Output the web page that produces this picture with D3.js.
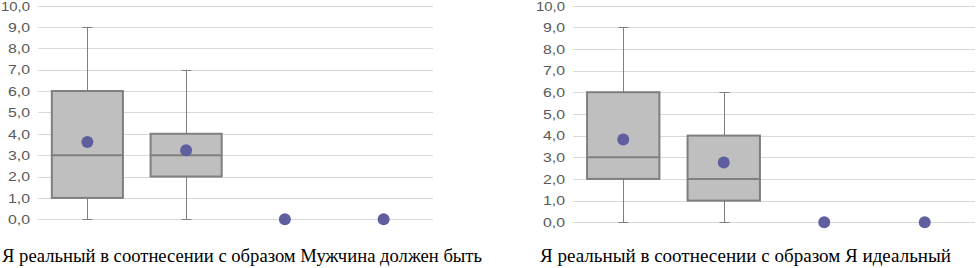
<!DOCTYPE html>
<html>
<head>
<meta charset="utf-8">
<script src="https://cdn.jsdelivr.net/npm/d3@7"></script>
<style>
  html, body { margin: 0; padding: 0; background: #fff; }
  svg { display: block; }
  .tick text { font-family: "Liberation Sans", "DejaVu Sans", sans-serif; fill: #595959; }
  .caption { font-family: "Liberation Serif", "DejaVu Serif", serif; fill: #000; }
</style>
</head>
<body>
<div id="chart"></div>
<script>
(function () {
  // categories (4 per panel, unnamed in the picture)
  const categories = ['A', 'B', 'C', 'D'];
  const yTicks = d3.range(0, 11, 1);

  // panel 1: "Мужчина должен быть"
  const leftMin    = [0, 0, null, null];
  const leftQ1     = [1, 2, null, null];
  const leftMedian = [3, 3, null, null];
  const leftQ3     = [6, 4, null, null];
  const leftMax    = [9, 7, null, null];
  const leftMean   = [3.62, 3.23, 0, 0];

  // panel 2: "Я идеальный"
  const rightMin    = [0, 0, null, null];
  const rightQ1     = [2, 1, null, null];
  const rightMedian = [3, 2, null, null];
  const rightQ3     = [6, 4, null, null];
  const rightMax    = [9, 6, null, null];
  const rightMean   = [3.82, 2.76, 0, 0];

  const captions = [
    'Я реальный в соотнесении с образом Мужчина должен быть',
    'Я реальный в соотнесении с образом Я идеальный'
  ];

  const W = 976, H = 268;
  const svg = d3.select('#chart').append('svg')
    .attr('width', W).attr('height', H)
    .attr('viewBox', `0 0 ${W} ${H}`);

  function pack(mn, q1, md, q3, mx, mean) {
    return categories.map((c, i) => ({
      cat: c, min: mn[i], q1: q1[i], med: md[i], q3: q3[i], max: mx[i], mean: mean[i]
    }));
  }

  const panels = [
    { data: pack(leftMin, leftQ1, leftMedian, leftQ3, leftMax, leftMean),
      x0: 38, x1: 433, yBottom: 219.3, yTop: 5.5, captionX: 2, captionW: 480, caption: captions[0] },
    { data: pack(rightMin, rightQ1, rightMedian, rightQ3, rightMax, rightMean),
      x0: 573, x1: 975, yBottom: 222.3, yTop: 5.5, captionX: 540, captionW: 411, caption: captions[1] }
  ];

  panels.forEach(p => {
    const g = svg.append('g');
    const x = d3.scaleBand().domain(categories).range([p.x0, p.x1]).paddingInner(0).paddingOuter(0);
    const y = d3.scaleLinear().domain([0, 10]).range([p.yBottom, p.yTop]);

    // gridlines
    g.append('g').selectAll('line').data(yTicks).join('line')
      .attr('x1', p.x0).attr('x2', p.x1)
      .attr('y1', d => Math.round(y(d)) + 0.5).attr('y2', d => Math.round(y(d)) + 0.5)
      .attr('stroke', '#d9d9d9').attr('stroke-width', 1);

    // y axis labels
    const ax = g.append('g').attr('transform', `translate(${p.x0 - 8},0)`)
      .call(d3.axisLeft(y).tickValues(yTicks).tickSize(0).tickPadding(0)
        .tickFormat(d => d3.format('.1f')(d).replace('.', ',')));
    ax.select('.domain').remove();
    ax.selectAll('text').attr('font-size', 12)
      .attr('dy', d => d === 10 ? '0.45em' : '0.36em')
      .attr('textLength', d => d === 10 ? 29 : 22).attr('lengthAdjust', 'spacingAndGlyphs');

    const bw = x.bandwidth() * 0.72;
    const boxes = p.data.filter(d => d.q1 != null);

    // whiskers
    const wg = g.append('g');
    boxes.forEach(d => {
      const cx = Math.round(x(d.cat) + x.bandwidth() / 2) + 0.5;
      wg.append('line').attr('x1', cx).attr('x2', cx)
        .attr('y1', y(d.max)).attr('y2', y(d.q3))
        .attr('stroke', '#7f7f7f').attr('stroke-width', 1);
      wg.append('line').attr('x1', cx).attr('x2', cx)
        .attr('y1', y(d.q1)).attr('y2', y(d.min))
        .attr('stroke', '#7f7f7f').attr('stroke-width', 1);
      [d.max, d.min].forEach(v => {
        wg.append('line').attr('x1', cx - 5).attr('x2', cx + 5)
          .attr('y1', Math.round(y(v)) + 0.5).attr('y2', Math.round(y(v)) + 0.5)
          .attr('stroke', '#7f7f7f').attr('stroke-width', 1);
      });
    });

    // boxes
    g.append('g').selectAll('rect').data(boxes).join('rect')
      .attr('x', d => x(d.cat) + (x.bandwidth() - bw) / 2)
      .attr('width', bw)
      .attr('y', d => y(d.q3))
      .attr('height', d => y(d.q1) - y(d.q3))
      .attr('fill', '#bfbfbf')
      .attr('stroke', '#7f7f7f').attr('stroke-width', 2);

    // medians
    g.append('g').selectAll('line').data(boxes).join('line')
      .attr('x1', d => x(d.cat) + (x.bandwidth() - bw) / 2)
      .attr('x2', d => x(d.cat) + (x.bandwidth() + bw) / 2)
      .attr('y1', d => y(d.med)).attr('y2', d => y(d.med))
      .attr('stroke', '#7f7f7f').attr('stroke-width', 2);

    // means
    g.append('g').selectAll('circle').data(p.data).join('circle')
      .attr('cx', d => x(d.cat) + x.bandwidth() / 2)
      .attr('cy', d => y(d.mean))
      .attr('r', 6)
      .attr('fill', '#5f5f9f');

    // caption
    g.append('text').attr('class', 'caption')
      .attr('x', p.captionX).attr('y', 262)
      .attr('font-size', 18)
      .attr('textLength', p.captionW).attr('lengthAdjust', 'spacingAndGlyphs')
      .text(p.caption);
  });
})();
</script>
</body>
</html>
